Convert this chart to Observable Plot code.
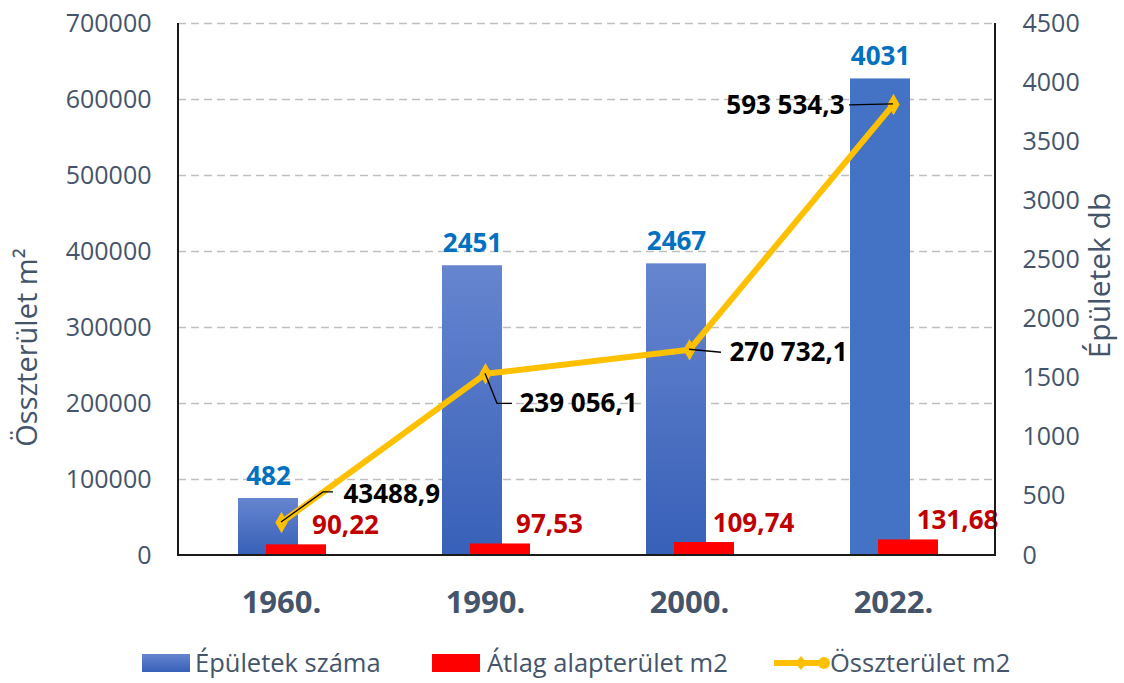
<!DOCTYPE html>
<html><head><meta charset="utf-8">
<script src="https://cdn.jsdelivr.net/npm/d3@7"></script>
<script src="https://cdn.jsdelivr.net/npm/@observablehq/plot@0.6"></script>
<style>
body{margin:0;background:#fff;font-family:"Open Sans",sans-serif;}
#wrap{width:1124px;height:683px;position:relative;overflow:hidden;background:#fff}
#legend{position:absolute;left:0;top:640px;width:1124px;height:43px}
.li{position:absolute;top:7px;font-size:25.5px;color:#44546A;line-height:30px;white-space:nowrap}
.sw{position:absolute}
</style></head><body><div id="wrap"><div id="chart"></div><div id="legend"></div></div>
<script>
// ---- data ----
const years = ["1960.", "1990.", "2000.", "2022."];
const buildings = [482, 2451, 2467, 4031];          // Épületek száma (right axis)
const avgArea = [90.22, 97.53, 109.74, 131.68];    // Átlag alapterület m2 (right axis)
const totalArea = [43488.9, 239056.1, 270732.1, 593534.3]; // Összterület m2 (left axis)
const totalLabels = ["43488,9", "239 056,1", "270 732,1", "593 534,3"];
const leftTicks = [0, 100000, 200000, 300000, 400000, 500000, 600000, 700000];
const rightTicks = [0, 500, 1000, 1500, 2000, 2500, 3000, 3500, 4000, 4500];
const seriesNames = ["Épületek száma", "Átlag alapterület m2", "Összterület m2"];
const leftTitle = "Összterület m²";
const rightTitle = "Épületek db";

// ---- layout (pixel offsets for label placement only) ----
const RATIO = 700000 / 4500;
const PAD_INNER = 1 - 60 / 204;
const lineLabelLayout = [
  {dx: 62, dy: -28, anchor: "start", leader: [[0, 0], [42, -30], [52, -30]]},
  {dx: 34, dy: 30, anchor: "start", leader: [[0, 0], [12, 30], [27, 30]]},
  {dx: 40, dy: 3, anchor: "start", leader: [[0, 0], [32, 3]]},
  {dx: -49, dy: 1, anchor: "end", leader: [[0, 0], [-44, 1]]}
];

const rows = years.map((year, i) => ({
  year, buildings: buildings[i], avg: avgArea[i], total: totalArea[i], label: totalLabels[i], i
}));

const SLATE = "#44546A";
const NS = "http://www.w3.org/2000/svg";

function overlay(...args) {
  const scales = args.find(a => a && typeof a.x === "function" && typeof a.y === "function");
  const dims = args.find(a => a && a.marginLeft !== undefined && a.width !== undefined);
  const g = document.createElementNS(NS, "g");
  const step = scales.x(years[1]) - scales.x(years[0]);
  const bw = step * (1 - PAD_INNER);
  rows.forEach((d, i) => {
    const px = scales.x(d.year) + bw / 2, py = scales.y(d.total);
    const p = document.createElementNS(NS, "path");
    p.setAttribute("d", "M" + lineLabelLayout[i].leader.map(([a, b]) => (px + a) + "," + (py + b)).join("L"));
    p.setAttribute("fill", "none");
    p.setAttribute("stroke", "#000");
    p.setAttribute("stroke-width", "1.3");
    g.appendChild(p);
  });
  const L = dims.marginLeft, R = dims.width - dims.marginRight, T = dims.marginTop, B = dims.height - dims.marginBottom;
  const fr = document.createElementNS(NS, "path");
  fr.setAttribute("d", `M${L},${T}L${L},${B}L${R},${B}L${R},${T}`);
  fr.setAttribute("fill", "none");
  fr.setAttribute("stroke", "#1a1a1a");
  fr.setAttribute("stroke-width", "2");
  g.appendChild(fr);
  return g;
}

const dataLabelFont = {fontSize: 26, fontWeight: "bold"};

const chart = Plot.plot({
  width: 1124,
  height: 640,
  marginTop: 23,
  marginBottom: 85,
  marginLeft: 178,
  marginRight: 129,
  style: {fontFamily: "'Open Sans', sans-serif", fontSize: "25px", background: "white", overflow: "visible"},
  x: {domain: years, paddingInner: PAD_INNER, paddingOuter: PAD_INNER / 2, axis: null},
  y: {domain: [0, 700000], axis: null},
  marks: [
    Plot.ruleY(leftTicks.filter(t => t > 0), {stroke: "#BFBFBF", strokeWidth: 1.5, strokeDasharray: "8,5"}),
    Plot.barY(rows, {filter: d => d.year !== "2022.", x: "year", y: d => d.buildings * RATIO, fill: "url(#blueGrad)", dx: -13}),
    Plot.barY(rows, {filter: d => d.year === "2022.", x: "year", y: d => d.buildings * RATIO, fill: "#4472C4", dx: -13}),
    Plot.barY(rows, {x: "year", y: d => d.avg * RATIO, fill: "#FF0000", dx: 15}),
    Plot.line(rows, {x: "year", y: "total", stroke: "#FFC000", strokeWidth: 6, strokeLinejoin: "round"}),
    Plot.dot(rows, {x: "year", y: "total", symbol: "diamond", r: 6.5, fill: "#FFC000"}),
    Plot.text(rows, {x: "year", y: d => d.buildings * RATIO, text: d => String(d.buildings), dx: -13, dy: -14, lineAnchor: "bottom", fill: "#0070C0", ...dataLabelFont}),
    Plot.text(rows, {x: "year", y: d => d.avg * RATIO, text: d => d.avg.toFixed(2).replace(".", ","), dx: 64, dy: -11, lineAnchor: "bottom", fill: "#C00000", ...dataLabelFont}),
    ...rows.map((r, i) => Plot.text([r], {x: "year", y: "total", text: "label", dx: lineLabelLayout[i].dx, dy: lineLabelLayout[i].dy, textAnchor: lineLabelLayout[i].anchor, lineAnchor: "middle", fill: "#000", ...dataLabelFont})),
    overlay,
    Plot.axisY(leftTicks, {anchor: "left", tickSize: 0, tickPadding: 27, tickFormat: d => String(d), label: null, fill: SLATE, fontSize: 25}),
    Plot.axisY(rightTicks.map(t => t * RATIO), {anchor: "right", tickSize: 0, tickPadding: 27, tickFormat: d => String(Math.round(d / RATIO)), label: null, fill: SLATE, fontSize: 25}),
    Plot.axisX({tickSize: 0, tickPadding: 35, label: null, fill: SLATE, fontSize: 31, fontWeight: "bold"}),
    Plot.text([leftTitle], {frameAnchor: "left", text: d => d, rotate: -90, dx: -151, dy: 58, textAnchor: "middle", lineAnchor: "middle", fill: SLATE, fontSize: 29}),
    Plot.text([rightTitle], {frameAnchor: "right", text: d => d, rotate: -90, dx: 105, dy: -14, textAnchor: "middle", lineAnchor: "middle", fill: SLATE, fontSize: 30})
  ]
});

// gradient for blue bars
const defs = document.createElementNS(NS, "defs");
defs.innerHTML = '<linearGradient id="blueGrad" x1="0" y1="0" x2="0" y2="1"><stop offset="0" stop-color="#6685CF"/><stop offset="1" stop-color="#3760B8"/></linearGradient>';
chart.insertBefore(defs, chart.firstChild);
document.getElementById("chart").appendChild(chart);

// legend
const legend = document.getElementById("legend");
const items = [
  {left: 142, textLeft: 195, swatch: '<svg width="48" height="18"><defs><linearGradient id="lg1" x1="0" y1="0" x2="0" y2="1"><stop offset="0" stop-color="#6685CF"/><stop offset="1" stop-color="#3760B8"/></linearGradient></defs><rect width="48" height="18" fill="url(#lg1)"/></svg>'},
  {left: 432, textLeft: 487, swatch: '<svg width="48" height="18"><rect width="48" height="18" fill="#FF0000"/></svg>'},
  {left: 772, textLeft: 830, swatch: '<svg width="60" height="18"><line x1="2" y1="9" x2="54" y2="9" stroke="#FFC000" stroke-width="6"/><path d="M29,2L35,9L29,16L23,9Z" fill="#FFC000"/><circle cx="52" cy="9" r="6" fill="#FFC000"/></svg>'}
];
items.forEach((it, i) => {
  const s = document.createElement("div");
  s.className = "sw";
  s.style.left = it.left + "px";
  s.style.top = "14px";
  s.innerHTML = it.swatch;
  legend.appendChild(s);
  const t = document.createElement("div");
  t.className = "li";
  t.style.left = it.textLeft + "px";
  t.textContent = seriesNames[i];
  legend.appendChild(t);
});
</script></body></html>
